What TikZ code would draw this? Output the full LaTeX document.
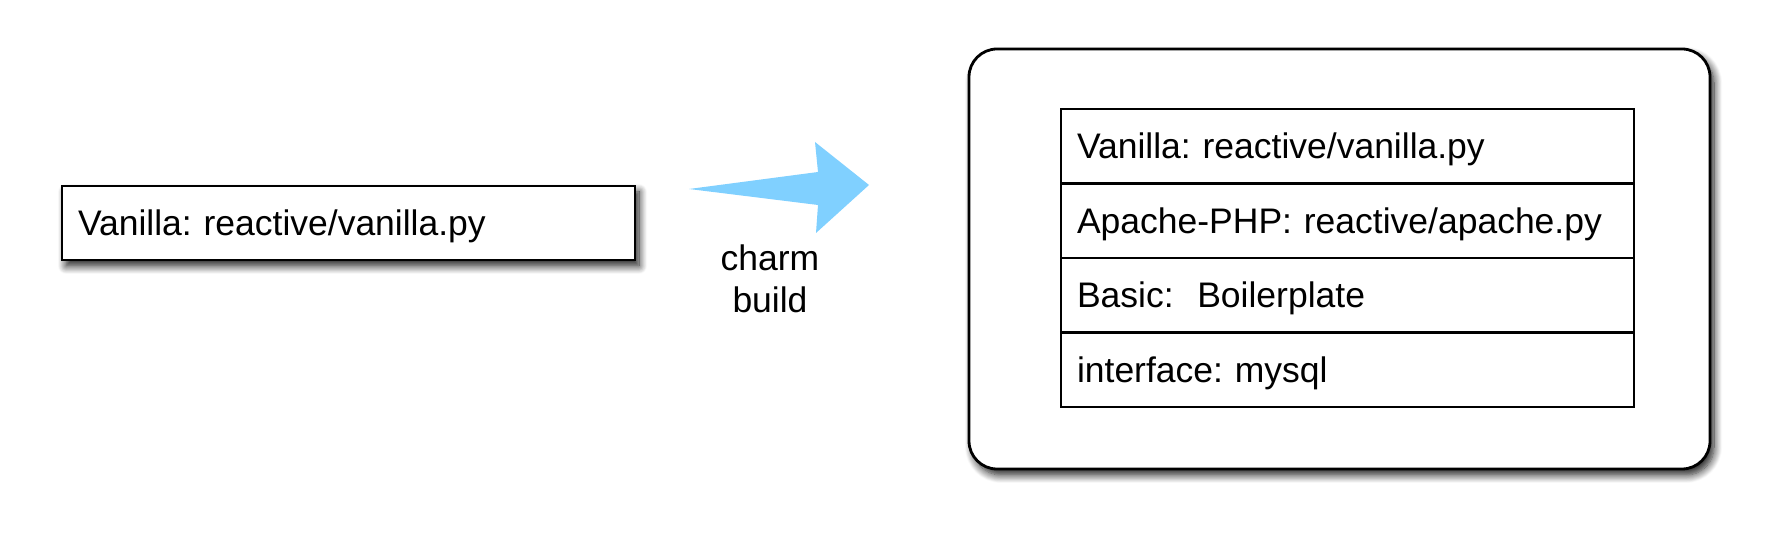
\documentclass[tikz,border=0pt]{standalone}
\usepackage{fontspec}
\setmainfont{Liberation Sans}
\frenchspacing
\usetikzlibrary{shadows.blur}
\definecolor{arrowblue}{RGB}{128,208,255}
\begin{document}
\begin{tikzpicture}[x=1pt,y=1pt,
  every node/.style={font=\fontsize{35.5}{42}\selectfont\frenchspacing},
  cell/.style={draw=black, line width=2.2pt, fill=white, minimum width=573pt, minimum height=74.5pt,
    text width=541pt, inner xsep=16pt, inner ysep=0pt, align=left, text height=25pt, text depth=0pt},
  softshadow/.style={blur shadow={shadow xshift=4pt, shadow yshift=-6pt, shadow blur radius=8pt, shadow blur steps=10, shadow opacity=90}},
  mybox/.style={cell, line width=2.8pt, minimum height=74pt, softshadow},
  outer/.style={draw=black, line width=2.8pt, fill=white, rounded corners=28pt, minimum width=741pt, minimum height=420pt, softshadow},
  lbl/.style={align=center, inner sep=0pt}
]
\useasboundingbox (0,0) rectangle (1770,543);
\node[mybox] (src) at (348.5,320) {Vanilla: reactive/vanilla.py};
\node[outer] (charm) at (1339.5,284) {};
\node[cell] (r1) at (1347.5,396.75) {Vanilla: reactive/vanilla.py};
\node[cell] (r2) at (1347.5,322.25) {Apache-PHP: reactive/apache.py};
\node[cell] (r3) at (1347.5,247.75) {Basic:\ \ Boilerplate};
\node[cell] (r4) at (1347.5,173.25) {interface: mysql};
\coordinate (tail) at (689,354);
\coordinate (tip) at (869,358);
\fill[arrowblue, line join=round] (tail) -- (818,371) -- (815,401) -- (tip) -- (816,310) -- (818,338) -- cycle;
\node[lbl] (build) at (770,264.5) {charm\\build};
\end{tikzpicture}
\end{document}
